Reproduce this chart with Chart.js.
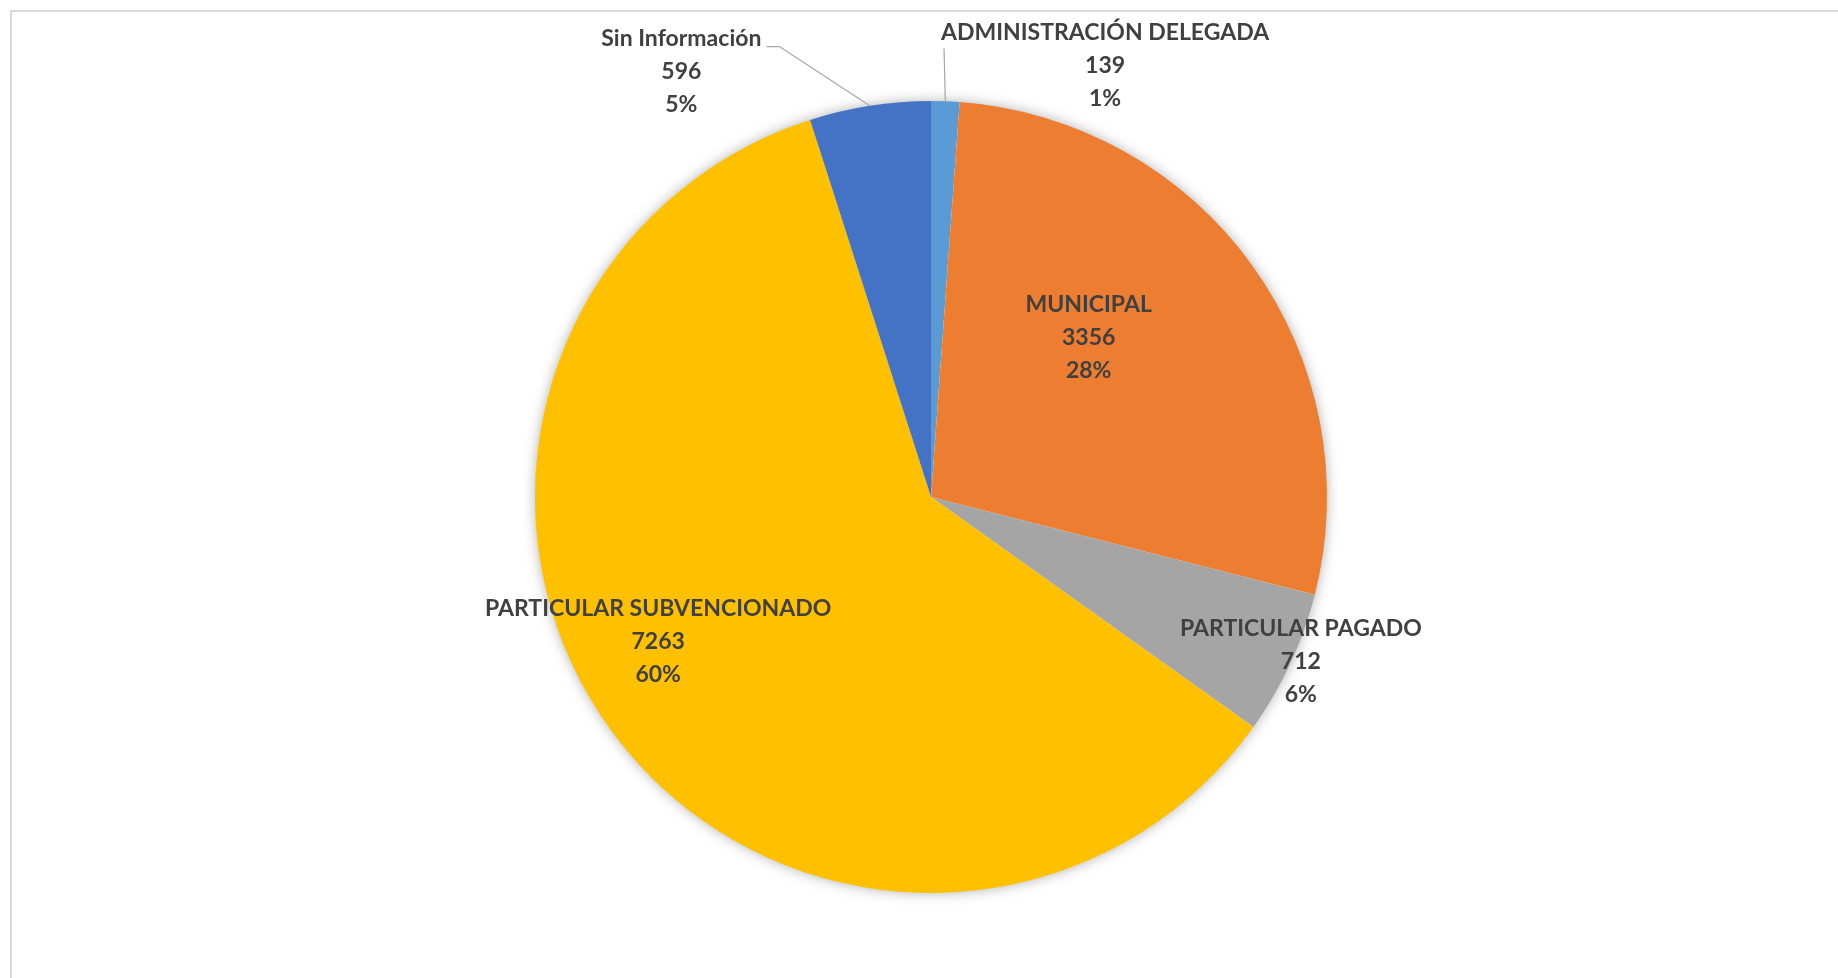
<!DOCTYPE html>
<html>
<head>
<meta charset="utf-8">
<script src="https://cdn.jsdelivr.net/npm/chart.js@4.4.1/dist/chart.umd.min.js"></script>
<style>
  html, body { margin: 0; padding: 0; background: #ffffff; }
  #wrap { position: relative; width: 1838px; height: 978px; }
  canvas { position: absolute; left: 0; top: 0; }
</style>
</head>
<body>
<div id="wrap"><canvas id="c" width="1838" height="978"></canvas></div>
<script>
const categories = ['ADMINISTRACIÓN DELEGADA', 'MUNICIPAL', 'PARTICULAR PAGADO', 'PARTICULAR SUBVENCIONADO', 'Sin Información'];
const values = [139, 3356, 712, 7263, 596];
const colors = ['#5B9BD5', '#ED7D31', '#A5A5A5', '#FFC000', '#4472C4'];

// label placement relative to each slice (angle offset in degrees, radius factor, leader type)
const labelPlacement = [
  { angle: 19.8, factor: 1.18, leader: 'left' },
  { angle: -9.9, factor: 0.57, leader: null },
  { angle: -1.2, factor: 1.02, leader: null },
  { angle: 8.6, factor: 0.777, leader: null },
  { angle: -21.4, factor: 1.25, leader: 'right' }
];

const total = values.reduce((a, b) => a + b, 0);

const framePlugin = {
  id: 'frame',
  beforeDraw(chart) {
    const ctx = chart.ctx;
    ctx.save();
    ctx.fillStyle = '#ffffff';
    ctx.fillRect(0, 0, chart.width, chart.height);
    ctx.strokeStyle = '#d9d9d9';
    ctx.lineWidth = 2;
    ctx.beginPath();
    ctx.moveTo(11, chart.height);
    ctx.lineTo(11, 11);
    ctx.lineTo(chart.width, 11);
    ctx.stroke();
    ctx.restore();
  },
  beforeDatasetsDraw(chart) {
    const meta = chart.getDatasetMeta(0);
    const arc = meta.data[0];
    if (!arc) return;
    const p = arc.getProps(['x', 'y', 'outerRadius'], true);
    const ctx = chart.ctx;
    ctx.save();
    ctx.shadowColor = 'rgba(0,0,0,0.35)';
    ctx.shadowBlur = 14;
    ctx.shadowOffsetX = 0;
    ctx.shadowOffsetY = 0;
    ctx.fillStyle = '#ffffff';
    ctx.beginPath();
    ctx.arc(p.x, p.y, p.outerRadius - 1, 0, Math.PI * 2);
    ctx.fill();
    ctx.restore();
  }
};

const labelPlugin = {
  id: 'sliceLabels',
  afterDatasetsDraw(chart) {
    const ctx = chart.ctx;
    const meta = chart.getDatasetMeta(0);
    const lineH = 33;
    ctx.save();
    ctx.font = 'bold 23px Lato';
    ctx.fillStyle = '#404040';
    ctx.textAlign = 'center';
    ctx.textBaseline = 'middle';
    meta.data.forEach((arc, i) => {
      const p = arc.getProps(['x', 'y', 'startAngle', 'endAngle', 'outerRadius'], true);
      const mid = (p.startAngle + p.endAngle) / 2;
      const pl = labelPlacement[i];
      const a = mid + pl.angle * Math.PI / 180;
      const cx = p.x + Math.cos(a) * p.outerRadius * pl.factor;
      const cy = p.y + Math.sin(a) * p.outerRadius * pl.factor + 2;
      const pct = Math.round(values[i] / total * 100) + '%';
      const lines = [categories[i], String(values[i]), pct];
      const y0 = cy - lineH;
      lines.forEach((t, k) => ctx.fillText(t, cx, y0 + k * lineH));
      if (pl.leader) {
        const w = ctx.measureText(lines[0]).width;
        const ex = p.x + Math.cos(mid) * p.outerRadius;
        const ey = p.y + Math.sin(mid) * p.outerRadius;
        ctx.save();
        ctx.strokeStyle = '#a6a6a6';
        ctx.lineWidth = 1.2;
        ctx.beginPath();
        ctx.moveTo(ex, ey);
        if (pl.leader === 'left') {
          ctx.lineTo(cx - w / 2 + 3, y0 + 16);
        } else {
          ctx.lineTo(cx + w / 2 + 18, y0 + 8);
          ctx.lineTo(cx + w / 2 + 5, y0 + 8);
        }
        ctx.stroke();
        ctx.restore();
      }
    });
    ctx.restore();
  }
};

new Chart(document.getElementById('c'), {
  type: 'pie',
  data: {
    labels: categories,
    datasets: [{
      data: values,
      backgroundColor: colors,
      borderWidth: 0,
      hoverOffset: 0,
      offset: 0
    }]
  },
  options: {
    responsive: false,
    animation: false,
    layout: { padding: { left: 200, right: 176, top: 101, bottom: 85 } },
    plugins: {
      legend: { display: false },
      tooltip: { enabled: false }
    }
  },
  plugins: [framePlugin, labelPlugin]
});
</script>
</body>
</html>
